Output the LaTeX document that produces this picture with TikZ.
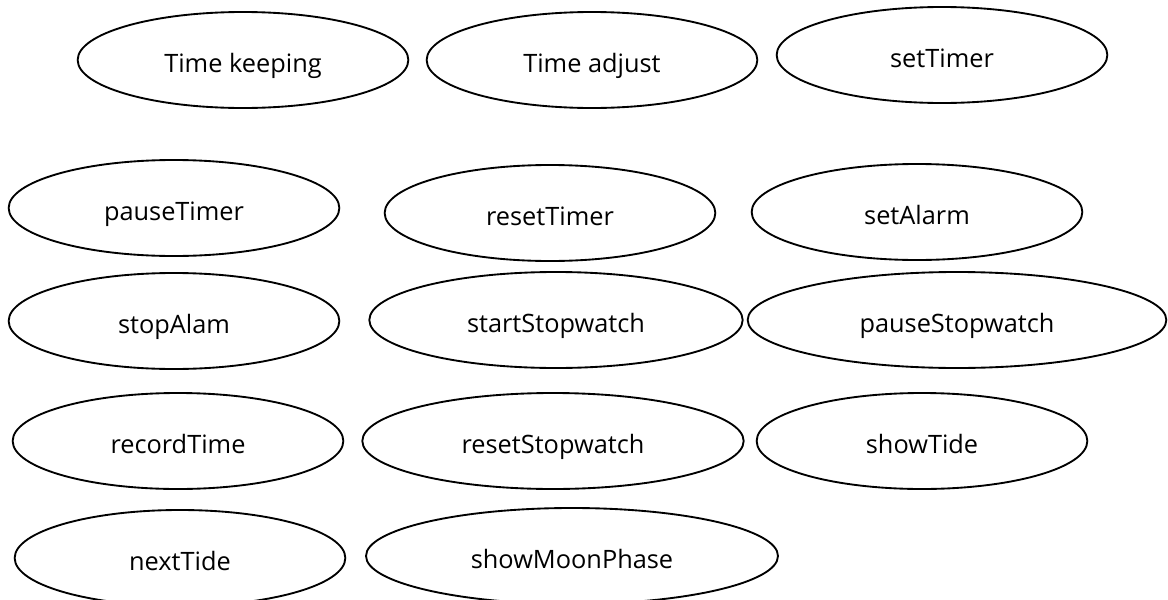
\documentclass[tikz,border=0pt]{standalone}
\usepackage{fontspec}
\setmainfont{Open Sans}
\usetikzlibrary{shapes.geometric}

\begin{document}
\begin{tikzpicture}[x=0.75pt, y=-0.75pt,
  usecase/.style={draw, ellipse, line width=1.4pt, minimum width=248pt, minimum height=72pt, inner sep=0pt, text height=18pt, text depth=0pt, font=\fontsize{19}{22}\selectfont},
  widecase/.style={usecase, minimum width=#1}
]

% Page frame; the last row runs off the bottom edge
\useasboundingbox (0,0) rectangle (1168,600);
\clip (0,0) rectangle (1168,600);

\node[usecase] (keeping) at (243,60) {Time keeping};
\node[usecase] (adjust) at (592,60) {Time adjust};
\node[usecase] (settimer) at (942,55) {setTimer};

\node[usecase] (pausetimer) at (174,208) {pauseTimer};
\node[usecase] (resettimer) at (550,213) {resetTimer};
\node[usecase] (setalarm) at (917,212) {setAlarm};

\node[usecase] (stopalarm) at (174,321) {stopAlam};
\node[widecase=280pt] (startsw) at (556,320) {startStopwatch};
\node[widecase=314pt] (pausesw) at (957,320) {pauseStopwatch};

\node[usecase] (record) at (178,441) {recordTime};
\node[widecase=286pt] (resetsw) at (553,441) {resetStopwatch};
\node[usecase] (showtide) at (922,441) {showTide};

\node[usecase] (nexttide) at (180,558) {nextTide};
\node[widecase=309pt] (moon) at (572,556) {showMoonPhase}; % cut by the frame

\end{tikzpicture}
\end{document}
